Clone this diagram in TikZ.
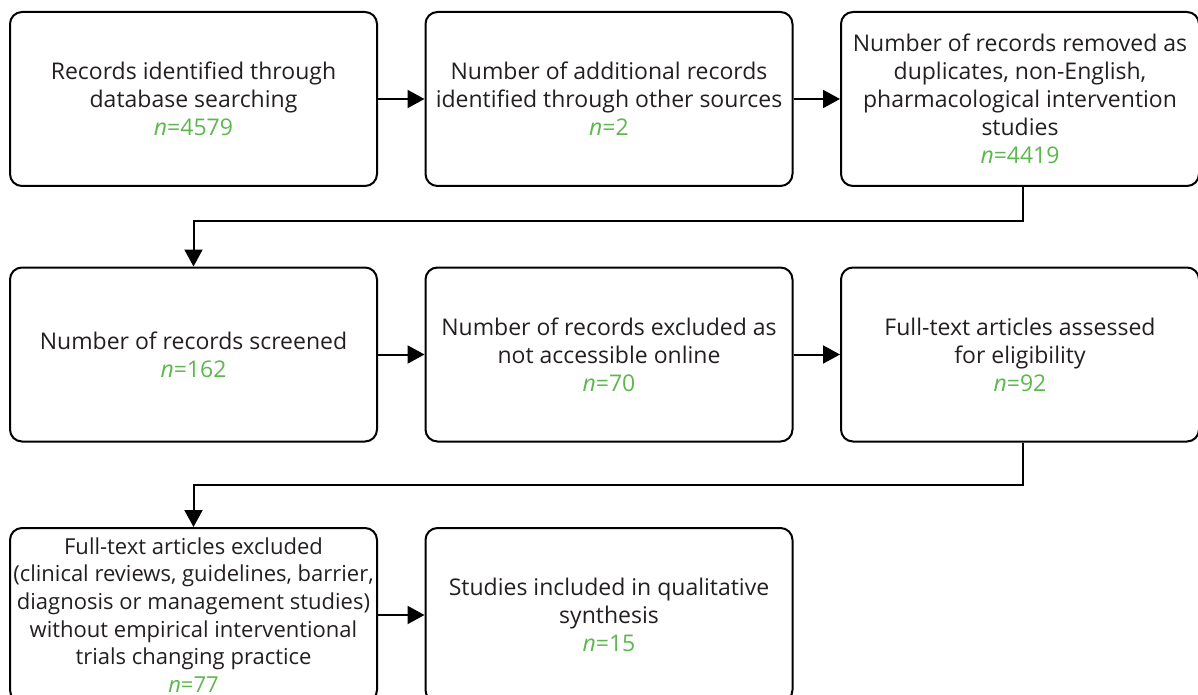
\documentclass[tikz,border=0pt]{standalone}
\usepackage{fontspec}
\setmainfont{Open Sans}
\usetikzlibrary{arrows.meta}
\definecolor{countgreen}{RGB}{92,184,76}
\definecolor{boxtext}{RGB}{35,31,32}
\newcommand{\cnt}[1]{{\color{countgreen}\textit{n}=#1}}

\begin{document}
\begin{tikzpicture}[x=0.5pt,y=-0.5pt,
    flowbox/.style={draw,line width=1pt,rounded corners=6pt,
        minimum width=183.5pt,minimum height=87pt,inner sep=0pt,
        align=center,text=boxtext,font=\fontsize{11.5}{14}\selectfont},
    flowarrow/.style={line width=1pt,-{Triangle[length=8.5pt,width=9pt]}}]
    \useasboundingbox (0,0) rectangle (1198,695);

    % first row
    \node[flowbox] (searched) at (193.5,99) {Records identified through\\database searching\\\cnt{4579}};
    \node[flowbox] (other) at (609,99) {Number of additional records\\identified through other sources\\\cnt{2}};
    \node[flowbox,minimum width=179pt] (removed) at (1020,99) {Number of records removed as\\duplicates, non-English,\\pharmacological intervention\\studies\\\cnt{4419}};

    % second row
    \node[flowbox] (screened) at (193.5,354.5) {Number of records screened\\\cnt{162}};
    \node[flowbox] (online) at (609,354.5) {Number of records excluded as\\not accessible online\\\cnt{70}};
    \node[flowbox,minimum width=179pt] (eligible) at (1020,354.5) {Full-text articles assessed\\for eligibility\\\cnt{92}};

    % third row
    \node[flowbox,font=\fontsize{11}{13.8}\selectfont] (excluded) at (193.5,615) {Full-text articles excluded\\(clinical reviews, guidelines, barrier,\\diagnosis or management studies)\\without empirical interventional\\trials changing practice\\\cnt{77}};
    \node[flowbox] (included) at (609,615) {Studies included in qualitative\\synthesis\\\cnt{15}};

    \draw[flowarrow] (searched) -- (other);
    \draw[flowarrow] (other) -- (removed);
    \draw[flowarrow] ([xshift=1.5pt]removed.south) -- ++(0,34) -| (screened.north);
    \draw[flowarrow] (screened) -- (online);
    \draw[flowarrow] (online) -- (eligible);
    \draw[flowarrow] ([xshift=1.5pt]eligible.south) -- ++(0,42) -| (excluded.north);
    \draw[flowarrow] (excluded) -- (included);
\end{tikzpicture}
\end{document}
